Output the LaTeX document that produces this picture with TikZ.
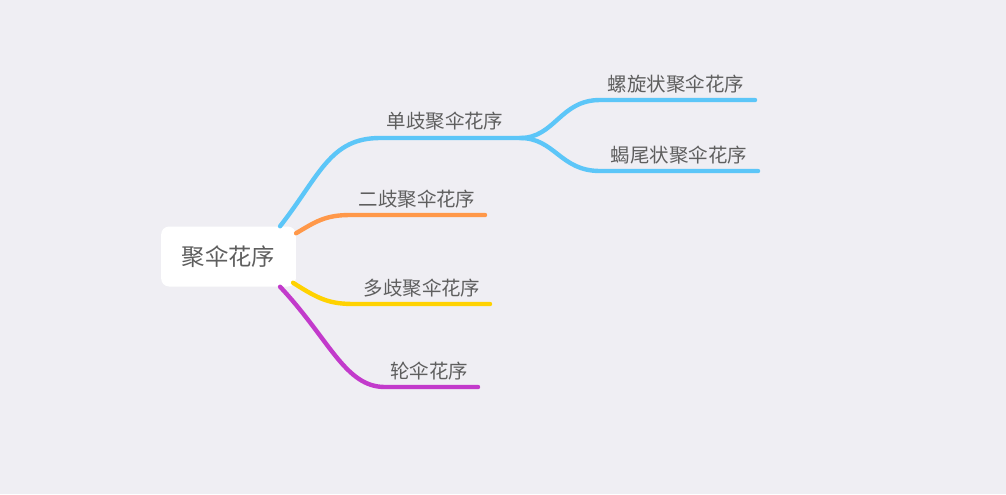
\documentclass[tikz,border=0pt]{standalone}
\usepackage{fontspec}
\setmainfont{Noto Sans CJK SC}
\usetikzlibrary{positioning}
\definecolor{bg}{HTML}{EFEEF3}
\definecolor{txt}{HTML}{5E5E5E}
\definecolor{cblue}{HTML}{5CC6F8}
\definecolor{corange}{HTML}{FF9849}
\definecolor{cyellow}{HTML}{FFD200}
\definecolor{cpurple}{HTML}{C23ACB}
\tikzset{
  branch/.style={line width=3.3pt, line cap=round},
  leaf/.style={font=\fontsize{14.6}{17}\selectfont, text=txt, inner sep=0pt}
}
\begin{document}
\begin{tikzpicture}[x=0.75pt, y=-0.75pt]
        % background
        \fill[bg] (0,0) rectangle (1006,494);
        \useasboundingbox (0,0) rectangle (1006,494);

        % Root
        \node[fill=white, rounded corners=6pt, minimum width=101pt, minimum height=45pt, font=\fontsize{17.5}{20}\selectfont, text=txt] (root) at (228.5,256.5) {聚伞花序};

        % Labels
        \node[leaf] (single) at (445,121) {单歧聚伞花序};
        \node[leaf] (spiral) at (676,84) {螺旋状聚伞花序};
        \node[leaf] (scorp) at (679,155) {蝎尾状聚伞花序};
        \node[leaf] (two) at (417,199) {二歧聚伞花序};
        \node[leaf] (multi) at (422,288) {多歧聚伞花序};
        \node[leaf] (whorl) at (429,371) {轮伞花序};

        % End points
        \coordinate (fork) at (520,138);
        \coordinate (e1) at (755,100);
        \coordinate (e2) at (758,171);
        \coordinate (e3) at (485,215);
        \coordinate (e4) at (490,304);
        \coordinate (e5) at (478,387);

        % Branches
        \draw[branch, cblue] (root.north east) ++(-16,0) .. controls (320,175) and (330,138) .. (380,138) -- (fork);
        \draw[branch, cblue] (fork) .. controls (555,138) and (560,100) .. (600,100) -- (e1);
        \draw[branch, cblue] (fork) .. controls (555,138) and (560,171) .. (600,171) -- (e2);
        \draw[branch, corange] (root.north east) ++(0,7) .. controls (315,222) and (325,215) .. (350,215) -- (e3);
        \draw[branch, cyellow] (root.south east) ++(-3,-4) .. controls (320,300) and (330,304) .. (355,304) -- (e4);
        \draw[branch, cpurple] (root.south east) ++(-16,0) .. controls (330,340) and (345,387) .. (385,387) -- (e5);
\end{tikzpicture}
\end{document}
